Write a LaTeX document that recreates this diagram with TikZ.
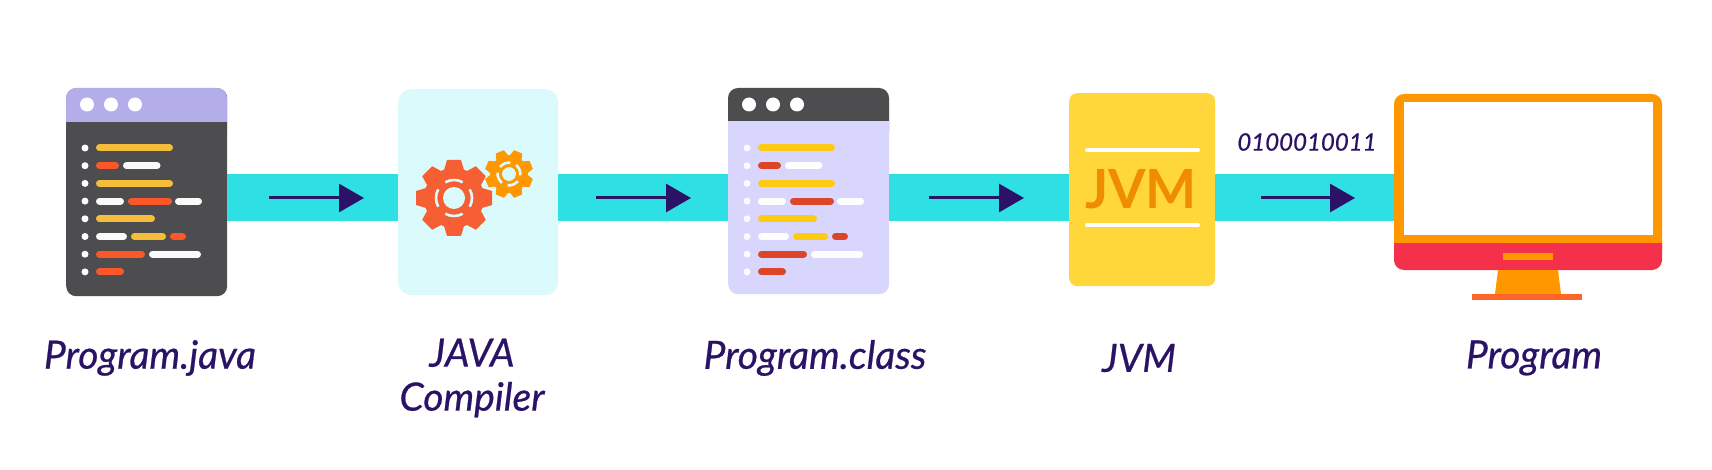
\documentclass[tikz,border=0pt]{standalone}
\usepackage{fontspec}
\setmainfont{Lato}
\newfontfamily\capfont[FakeBold=0.6]{Lato}
\usetikzlibrary{arrows.meta}
\definecolor{inkcol}{HTML}{2A1266}
\definecolor{bandcol}{HTML}{2EE0E4}
\definecolor{compcol}{HTML}{DBFAFB}
\definecolor{jvmcol}{HTML}{FFD73A}
\definecolor{jvmtxt}{HTML}{EF8C00}
\definecolor{orangecol}{HTML}{FF9800}
\definecolor{redcol}{HTML}{F5304A}
\definecolor{basecol}{HTML}{FF6429}
\definecolor{gearcol}{HTML}{F55F33}
\definecolor{lilachead}{HTML}{B3ADE9}
\definecolor{darkbody}{HTML}{4D4C4E}
\definecolor{lilacbody}{HTML}{D9D6FE}
\definecolor{yelone}{HTML}{F5BE3A}
\definecolor{redone}{HTML}{FB5729}
\definecolor{yeltwo}{HTML}{FDCB12}
\definecolor{redtwo}{HTML}{DC4527}
\tikzset{
  winbox/.style={rectangle,inner sep=0pt,rounded corners=10pt,anchor=north west},
  band/.style={bandcol,line width=47pt},
  flowarrow/.style={inkcol,line width=3pt,-{Triangle[length=25pt,width=28pt]}},
  codeline/.style={line width=7pt,line cap=round},
  caption/.style={inkcol,font=\fontsize{39}{44}\capfont\itshape,align=center}
}
% name, left x, bottom, head bottom, head, body, yellow, red, bullet
\newcommand{\codewin}[9]{
  \colorlet{yel}{#7}\colorlet{rd}{#8}\colorlet{wht}{white!97!#6}
  \node[winbox,fill=#6,minimum width=161pt,minimum height=#3pt-88pt] (#1) at (#2,88) {};
  \fill[#5,rounded corners=10pt] (#2,#4+20) -- (#2,88) -- (#2+161,88) -- (#2+161,#4+20) -- cycle;
  \fill[#6] (#2,#4) rectangle (#2+161,#4+20);
  \foreach \xx in {21,45,69}
    \fill[white] (#2+\xx,104.5) circle (7);
  \foreach \yy in {148,165.7,183.4,201.1,218.8,236.5,254.2,271.9}
    \fill[#9] (#2+19,\yy) circle (3.5);
  \foreach \yy/\xa/\xb/\cc in {148/33.5/103.5/yel,165.7/33.5/49.5/rd,165.7/60.5/91/wht,183.4/33.5/103.5/yel,
    201.1/33.5/54.5/wht,201.1/65.5/102.5/rd,201.1/112.5/132.5/wht,218.8/33.5/85.5/yel,
    236.5/33.5/57.5/wht,236.5/68.5/96.5/yel,236.5/107.5/116.5/rd,254.2/33.5/75.5/rd,
    254.2/86.5/131.5/wht,271.9/33.5/54.5/rd}
    \draw[codeline,\cc] (#2+\xa,\yy) -- (#2+\xb,\yy);
}
% centre x, centre y, scale, rotation, colour
\newcommand{\gearwheel}[5]{
  \begin{scope}[shift={(#1,#2)},scale=#3,rotate=#4]
    \fill[#5] (0,0) circle (30);
    \foreach \aa in {0,45,...,315}
      \fill[#5,rotate=\aa] (28,-10) -- (38,-7) -- (38,7) -- (28,10) -- cycle;
    \fill[compcol] (0,0) circle (11);
    \foreach \aa in {0,90,180,270}
      \draw[compcol,line width=2.6pt] (\aa-29:18) arc[start angle=\aa-29,end angle=\aa+29,radius=18];
  \end{scope}
}
\begin{document}
\begin{tikzpicture}[x=1pt,y=-1pt]
\useasboundingbox (0,0) rectangle (1712,470);
\coordinate (barmid) at (0,197.5);

\codewin{srcwin}{66}{296}{122}{lilachead}{darkbody}{yelone}{redone}{white}
\node[winbox,fill=compcol,rounded corners=13pt,minimum width=160pt,minimum height=206pt] (compwin) at (398,89) {};
\gearwheel{454}{198}{1}{0}{gearcol}
\gearwheel{509}{174}{0.63}{22.5}{orangecol}
\codewin{classwin}{728}{294}{121}{darkbody}{lilacbody}{yeltwo}{redtwo}{white!90!lilacbody}
\node[winbox,fill=jvmcol,rounded corners=8pt,minimum width=146pt,minimum height=193pt] (jvmwin) at (1069,93) {};
\node[winbox,minimum width=268pt,minimum height=176pt] (screen) at (1394,94) {};

% bands between the icons
\draw[band] (srcwin.east |- barmid) -- (compwin.west |- barmid);
\draw[band] (compwin.east |- barmid) -- (classwin.west |- barmid);
\draw[band] (classwin.east |- barmid) -- (jvmwin.west |- barmid);
\draw[band] (jvmwin.east |- barmid) -- (screen.west |- barmid);

\draw[white,line width=4pt,line cap=round] (1087,150) -- (1198,150);
\draw[white,line width=4pt,line cap=round] (1087,225) -- (1198,225);
\node[jvmtxt,font=\fontsize{54}{54}\selectfont\bfseries] (jvmtext) at (1141,189) {JVM};

% monitor
\fill[redcol,rounded corners=10pt] (1394,230) -- (1394,270) -- (1662,270) -- (1662,230) -- cycle;
\fill[orangecol,rounded corners=10pt] (1394,260) -- (1394,94) -- (1662,94) -- (1662,260) -- cycle;
\fill[redcol] (1394,243) rectangle (1662,262);
\fill[white] (1404,102) rectangle (1653,235);
\fill[orangecol] (1503,253) rectangle (1553,260);
\fill[orangecol] (1498,270) -- (1558,270) -- (1561,294) -- (1495,294) -- cycle;
\fill[basecol] (1472,293.5) rectangle (1582,299.5);

% arrows
\coordinate (ar1a) at (269,198); \coordinate (ar1b) at (364,198);
\coordinate (ar2a) at (596,198); \coordinate (ar2b) at (691,198);
\coordinate (ar3a) at (929,198); \coordinate (ar3b) at (1024,198);
\coordinate (ar4a) at (1261,198); \coordinate (ar4b) at (1355,198);
\foreach \ss/\ee in {ar1a/ar1b,ar2a/ar2b,ar3a/ar3b,ar4a/ar4b}
  \draw[flowarrow] (\ss) -- (\ee);

\node[caption] (srclabel) at (150,358) {Program.java};
\node[caption] (complabel) at (472,378) {JAVA\\Compiler};
\node[caption] (classlabel) at (815,358) {Program.class};
\node[caption] (jvmlabel) at (1139,358) {JVM};
\node[caption] (proglabel) at (1534,358) {Program};
\node[inkcol,font=\fontsize{24}{24}\capfont\itshape] (bitslabel) at (1307,142) {0100010011};
\end{tikzpicture}
\end{document}
